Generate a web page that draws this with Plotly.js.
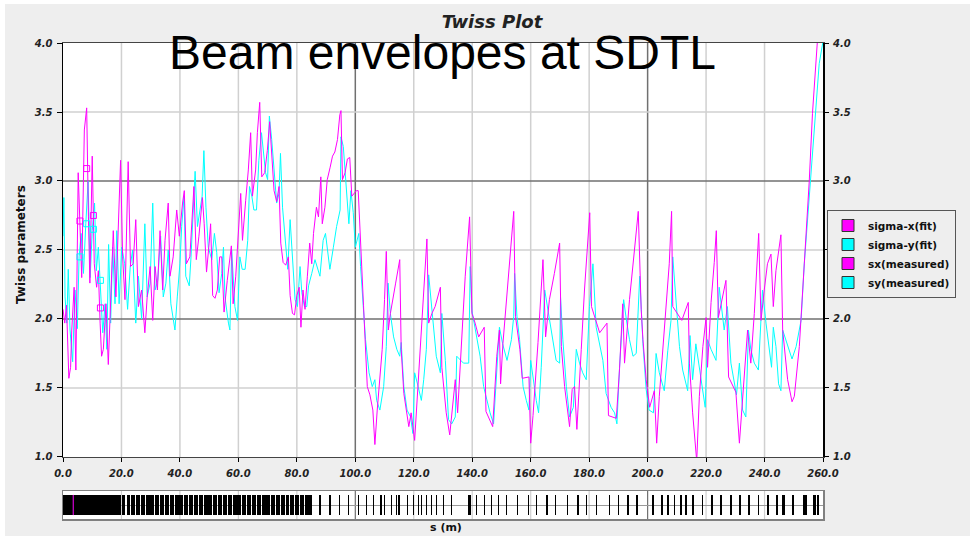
<!DOCTYPE html>
<html>
<head>
<meta charset="utf-8">
<script src="https://cdn.plot.ly/plotly-3.0.1.min.js"></script>
<style>
  html, body { margin: 0; padding: 0; background: #ffffff; }
  #bg { position: absolute; left: 5px; top: 4px; width: 965px; height: 532px; background: #EEEEEE; }
  #chart { position: absolute; left: 0; top: 0; width: 970px; height: 536px; }
</style>
</head>
<body>
<div id="bg"></div>
<div id="chart"></div>
<script>
// ---- sigma-x (fit) ----
const sigmaXs = [0.0,0.6,1.2,2.0,2.6,3.0,3.8,4.4,5.2,5.8,6.4,7.3,8.1,8.7,9.2,10.0,10.7,11.5,12.1,12.7,13.2,13.8,14.7,15.5,16.1,17.2,18.1,18.9,19.7,20.4,21.2,22.3,23.1,24.0,24.9,25.8,26.9,28.0,28.8,29.8,30.7,31.5,32.3,33.2,34.1,34.9,36.0,36.6,37.7,38.9,39.8,40.9,41.5,42.2,43.4,44.8,45.6,46.5,47.7,48.3,49.1,50.0,50.5,51.2,52.0,52.8,53.6,54.3,55.1,56.2,57.6,58.2,59.1,60.8,61.4,62.5,63.4,64.2,64.8,65.9,66.5,67.3,68.0,69.0,69.9,70.7,71.4,72.2,73.1,73.9,74.5,75.3,76.2,77.1,77.7,78.5,79.2,80.0,80.8,81.4,82.1,82.8,83.6,84.4,85.1,85.7,86.7,87.4,88.2,88.7,89.6,90.4,91.4,92.2,93.0,93.9,94.7,95.1,95.6,96.5,97.3,98.1,98.8,99.6,100.4,101.0,101.8,102.8,104.1,105.0,106.0,106.7,107.5,109.2,110.0,110.6,111.3,112.0,113.8,115.2,115.7,116.6,118.3,119.1,120.3,121.1,122.2,123.4,124.5,125.1,126.2,127.3,129.1,129.6,131.1,132.3,133.4,134.2,135.0,136.1,137.6,139.1,139.9,141.0,142.2,144.1,144.7,147.0,148.4,149.3,149.7,150.5,151.7,153.4,154.2,154.8,156.3,157.1,159.4,160.0,160.8,162.5,164.2,165.1,166.4,168.1,169.9,170.5,171.6,173.3,174.2,175.0,175.8,177.3,178.4,180.2,180.8,183.6,186.1,186.6,189.3,190.4,191.5,192.1,193.8,195.5,196.8,197.8,198.4,199.5,200.7,202.3,203.1,204.0,205.7,207.4,208.2,208.6,211.7,213.9,214.3,215.4,216.8,217.7,218.9,220.0,220.5,221.7,222.8,223.5,224.2,225.6,226.8,227.7,230.2,231.4,232.5,234.2,235.3,236.5,238.0,238.8,239.9,241.0,242.2,243.0,243.9,245.6,246.2,247.9,249.4,250.2,251.9,253.6,255.3,256.4,258.2,259.0];
const sigmaXv = [2.07,1.97,2.10,1.57,1.65,1.92,2.23,1.63,3.06,2.71,2.30,3.37,3.53,2.74,2.26,3.18,2.40,2.23,2.35,1.97,1.73,1.78,2.11,1.67,1.97,2.64,2.16,2.64,3.15,2.45,2.14,3.14,2.38,2.40,2.72,2.09,2.21,1.90,2.16,2.38,1.99,2.38,2.21,2.64,2.21,2.57,2.84,2.31,2.45,2.79,2.60,2.84,2.93,2.40,2.45,2.96,2.43,2.60,2.88,2.69,2.34,2.55,2.69,2.17,2.15,2.21,2.45,2.45,2.05,2.28,2.53,2.11,2.31,2.91,2.57,2.86,3.08,3.35,2.89,3.08,3.35,3.57,3.03,3.06,3.22,3.43,3.22,2.93,2.85,2.96,2.55,2.41,2.39,2.45,2.17,2.04,2.03,2.17,2.23,1.94,2.21,2.07,2.31,2.55,2.40,2.62,2.81,2.74,3.03,2.69,2.81,3.01,3.10,3.18,3.21,3.30,3.48,3.51,3.01,3.06,3.16,3.17,2.89,2.91,2.93,2.93,2.60,2.10,1.51,1.45,1.34,1.09,1.34,1.78,2.14,2.49,1.92,2.04,2.26,2.43,1.78,1.46,1.22,1.32,1.12,1.41,1.78,2.26,2.58,1.97,2.04,2.09,2.23,1.65,1.32,1.16,1.37,1.56,1.32,1.78,2.31,2.74,2.04,1.97,1.87,1.94,1.33,1.22,1.73,1.92,1.53,1.82,2.14,2.62,2.78,2.02,1.78,1.57,1.58,1.10,1.30,1.83,2.43,1.87,2.14,2.33,2.55,1.80,1.51,1.22,1.49,1.51,1.20,1.78,2.21,2.77,2.09,1.90,1.97,1.30,1.28,1.64,2.11,1.68,2.14,2.50,2.78,2.07,1.85,1.56,1.36,1.48,1.10,1.44,1.92,2.40,2.78,2.09,1.99,2.12,1.68,1.32,0.97,1.44,1.80,2.01,1.65,2.12,2.41,2.64,2.01,2.16,2.28,1.58,1.47,1.10,1.44,1.92,1.68,2.04,2.62,1.99,2.21,2.40,2.47,2.09,2.35,2.61,1.92,1.56,1.40,1.44,1.80,2.40,3.00,3.49,4.00,4.30];

// ---- sigma-y (fit) ----
const sigmaYs = [0.0,0.3,0.7,1.3,1.8,2.4,3.3,4.1,4.9,5.5,6.2,7.0,7.8,8.6,9.3,10.0,10.8,11.4,12.1,12.8,13.6,14.4,15.0,15.6,16.3,17.0,17.8,18.4,19.2,20.1,21.1,22.1,23.0,23.8,24.9,25.8,26.9,28.0,28.8,29.8,30.7,31.5,32.4,33.4,34.3,35.2,36.0,36.9,38.3,39.1,40.0,40.6,41.4,42.0,43.2,43.8,45.2,46.0,46.9,47.6,48.2,48.9,49.7,50.9,51.8,52.6,53.4,54.3,54.9,55.4,56.6,57.1,57.7,58.8,59.7,60.5,61.3,62.3,63.2,63.8,64.6,65.3,66.2,67.0,67.9,68.5,69.3,70.0,70.6,71.4,72.3,73.1,73.9,74.4,75.1,76.0,76.9,77.7,78.5,79.4,80.2,81.1,81.7,82.6,83.4,84.0,85.1,86.2,87.9,89.0,89.8,91.3,92.5,93.6,94.8,95.1,95.9,97.0,97.8,98.5,99.3,100.0,101.2,101.8,103.5,104.7,105.8,106.7,107.3,108.4,109.7,110.6,111.2,112.0,113.1,114.2,115.2,115.7,116.6,117.7,118.9,119.7,120.3,121.5,122.6,123.4,124.3,125.1,125.9,126.8,127.7,129.1,129.6,130.8,131.9,133.0,134.2,134.7,137.0,138.8,139.3,139.9,141.0,142.7,143.9,145.0,146.1,147.3,148.4,149.3,150.4,151.9,153.4,154.2,154.5,155.3,156.2,157.4,158.5,159.4,160.0,160.8,161.9,162.7,163.6,164.8,165.9,167.6,168.7,169.9,170.2,171.0,172.2,173.3,174.6,175.6,176.7,177.8,179.0,180.1,181.3,182.4,183.5,184.7,185.8,187.5,188.7,189.5,190.4,191.8,192.7,193.8,195.0,196.1,197.3,198.4,199.5,200.5,202.0,202.9,204.0,205.7,206.9,208.0,208.6,209.7,210.9,212.0,213.7,214.5,215.4,216.5,218.2,219.7,220.5,221.7,223.4,224.5,226.2,227.3,228.5,230.4,231.4,232.5,233.6,234.5,235.3,236.5,237.9,238.8,239.3,240.5,242.4,243.0,243.9,244.8,245.6,246.2,247.9,249.4,250.8,252.5,253.6,255.3,257.0,258.7,259.9];
const sigmaYv = [2.60,2.88,2.16,1.97,2.36,1.92,1.69,2.21,1.93,2.45,2.62,2.33,2.69,3.00,2.30,2.64,2.84,2.35,2.52,2.27,1.90,2.11,1.78,2.54,1.97,2.52,2.11,2.64,2.11,2.52,2.40,2.07,2.38,2.50,1.97,2.31,2.00,2.69,2.16,2.26,2.84,2.21,2.28,2.60,2.16,2.26,2.50,2.11,1.92,2.16,2.40,2.67,2.89,2.31,2.24,2.45,3.07,2.67,2.81,2.89,3.22,2.81,2.52,2.43,2.62,2.48,2.19,2.33,2.52,2.16,1.97,1.92,2.50,2.09,1.99,2.45,2.36,2.36,2.57,2.96,2.89,2.79,2.79,3.15,3.35,3.20,3.06,3.01,3.47,3.30,3.04,2.84,2.91,3.20,2.81,2.60,2.36,2.72,2.48,2.14,2.09,2.38,2.19,2.09,2.09,2.24,2.33,2.43,2.31,2.57,2.62,2.36,2.52,2.67,2.79,3.32,3.25,2.96,2.69,2.93,2.77,2.52,2.62,2.38,1.85,1.61,1.51,1.56,1.41,1.34,1.51,1.80,2.26,2.04,1.87,1.78,1.73,1.83,1.51,1.34,1.29,1.17,1.61,1.51,1.41,1.56,1.78,2.32,2.14,1.99,1.73,1.61,2.04,1.70,1.27,1.24,1.29,1.73,1.68,1.68,2.38,2.06,1.94,1.73,1.51,1.41,1.32,1.24,1.65,1.94,1.82,1.70,1.85,2.02,2.33,2.02,1.85,1.51,1.41,1.34,1.70,1.56,1.41,1.32,1.65,2.21,2.07,1.83,1.70,1.68,2.16,1.85,1.51,1.29,1.36,1.78,1.68,1.61,1.56,2.09,2.40,1.94,1.82,1.70,1.46,1.36,1.32,1.24,1.65,2.14,2.00,1.85,1.73,1.75,2.31,1.82,1.49,1.34,1.32,1.75,1.61,1.48,1.77,1.99,2.45,2.16,1.80,1.63,1.48,1.88,1.56,1.82,1.56,1.36,1.85,1.78,1.70,2.23,1.92,2.09,1.68,1.45,1.68,1.34,1.29,1.92,1.78,1.68,1.63,1.97,2.21,1.97,1.65,1.94,1.80,1.53,1.48,1.92,1.80,1.71,1.80,1.99,2.40,2.88,3.37,3.85,4.00];

// ---- measured points ----
const measS = [5.8, 8.1, 10.4, 12.8];
const sxMeasured = [2.71, 3.09, 2.75, 2.08];
const syMeasured = [2.45, 2.69, 2.65, 2.28];

// ---- lattice elements (centre s, length in m) ----
const latticePos = [9.9,20.7,22.4,24.0,25.7,27.3,29.0,30.6,32.3,33.9,35.6,37.2,38.9,40.5,42.2,43.8,45.5,47.1,48.8,50.4,52.1,53.7,55.4,57.0,58.7,60.3,62.0,63.6,65.3,66.9,68.6,70.2,71.9,73.5,75.2,76.8,78.5,80.1,81.8,83.4,84.7,87.9,91.3,94.7,97.6,101.0,103.9,106.2,108.8,109.9,112.4,114.1,114.9,117.9,119.8,121.5,122.7,124.4,126.1,127.8,130.1,132.9,139.2,141.5,144.3,146.6,148.9,151.8,155.6,159.2,162.0,165.6,168.4,172.6,176.2,179.0,182.6,186.9,190.1,193.3,196.4,201.8,205.0,207.1,209.2,211.4,213.1,215.6,218.8,222.0,225.2,228.4,231.6,234.8,237.9,241.1,244.3,246.5,249.7,253.9,257.1,258.4];
const latticeLen = [19.8,1.35,1.35,1.35,1.35,1.35,1.35,1.35,1.35,1.35,1.35,1.35,1.35,1.35,1.35,1.35,1.35,1.35,1.35,1.35,1.35,1.35,1.35,1.35,1.35,1.35,1.35,1.35,1.35,1.35,1.35,1.35,1.35,1.35,1.35,1.35,1.35,1.35,1.35,1.35,0.9,0.45,0.45,0.45,0.45,0.45,0.45,0.45,0.45,0.45,0.45,0.45,0.45,0.45,0.45,0.45,0.45,0.45,0.45,0.45,0.45,0.45,1.0,0.45,0.45,0.45,0.45,0.45,0.45,0.45,0.45,0.45,0.45,0.45,0.45,0.45,0.45,0.45,0.45,0.45,0.45,0.45,0.6,0.6,0.6,0.6,0.6,0.6,0.6,0.6,0.6,0.6,0.6,0.6,0.6,0.8,0.8,0.8,0.8,1.2,0.9,0.6,0.6];
const cursorPos = [3.5];

// ---- ticks ----
const xTicks = [0,20,40,60,80,100,120,140,160,180,200,220,240,260];
const yTicks = [1.0,1.5,2.0,2.5,3.0,3.5,4.0];
const majorX = [100, 200];
const majorY = [2.0, 3.0];

const MAG = '#FF00FF', CYA = '#00FFFF';
const LIGHT = '#d0d0d0', DARK = '#707070';
const tickFont = {family: 'DejaVu Sans, Verdana, sans-serif', size: 10, weight: 'bold', style: 'italic', color: '#222'};
const boldFont = {family: 'DejaVu Sans, Verdana, sans-serif', size: 12, weight: 'bold', color: '#111'};

const traces = [
  {type:'scatter', mode:'lines', x: sigmaYs, y: sigmaYv, line:{color:CYA, width:1}, showlegend:false, hoverinfo:'skip'},
  {type:'scatter', mode:'lines', x: sigmaXs, y: sigmaXv, line:{color:MAG, width:1}, showlegend:false, hoverinfo:'skip'},
  {type:'scatter', mode:'markers', x: measS, y: sxMeasured, yaxis:'y3', marker:{symbol:'square-open', size:6, color:MAG, line:{width:1}}, showlegend:false},
  {type:'scatter', mode:'markers', x: measS, y: syMeasured, yaxis:'y3', marker:{symbol:'square-open', size:6, color:CYA, line:{width:1}}, showlegend:false},
  // lattice view
  {type:'bar', x: latticePos, width: latticeLen, y: latticePos.map(() => 0.72), base: 0.14,
   xaxis:'x2', yaxis:'y2', marker:{color:'#000000', line:{width:0}}, showlegend:false, hoverinfo:'skip'},
  {type:'scatter', mode:'lines', x: [cursorPos[0], cursorPos[0]], y: [0.14, 0.86], xaxis:'x2', yaxis:'y2',
   line:{color:MAG, width:1}, showlegend:false, hoverinfo:'skip'},
  // legend entries
  {type:'scatter', mode:'markers', x:[null], y:[null], name:'sigma-x(fit)', marker:{symbol:'square', size:12, color:MAG, line:{color:'#333', width:1}}},
  {type:'scatter', mode:'markers', x:[null], y:[null], name:'sigma-y(fit)', marker:{symbol:'square', size:12, color:CYA, line:{color:'#333', width:1}}},
  {type:'scatter', mode:'markers', x:[null], y:[null], name:'sx(measured)', marker:{symbol:'square', size:12, color:MAG, line:{color:'#333', width:1}}},
  {type:'scatter', mode:'markers', x:[null], y:[null], name:'sy(measured)', marker:{symbol:'square', size:12, color:CYA, line:{color:'#333', width:1}}}
];

// grid lines drawn as shapes below the data (light for minor, darker for major)
const shapes = [];
xTicks.slice(1, -1).forEach(v => {
  const c = majorX.includes(v) ? DARK : LIGHT;
  shapes.push({type:'line', xref:'x', yref:'y domain', x0:v, x1:v, y0:0, y1:1, line:{color:c, width:1.5}, layer:'below'});
  shapes.push({type:'line', xref:'x2', yref:'y2 domain', x0:v, x1:v, y0:0, y1:1, line:{color:c, width:1.2}, layer:'below'});
});
yTicks.slice(1, -1).forEach(v => {
  const c = majorY.includes(v) ? DARK : LIGHT;
  shapes.push({type:'line', xref:'x domain', yref:'y', x0:0, x1:1, y0:v, y1:v, line:{color:c, width:1.5}, layer:'below'});
});

const layout = {
  width: 970, height: 536,
  margin: {l:63, r:147, t:43, b:17, autoexpand:false},
  paper_bgcolor: 'rgba(0,0,0,0)',
  plot_bgcolor: '#ffffff',
  title: {text:'Twiss Plot', font:{family:'DejaVu Sans, Verdana, sans-serif', size:18, weight:'bold', style:'italic', color:'#222'},
          xref:'container', yref:'container', x: 492/970, y: 1 - 22/536, xanchor:'center', yanchor:'middle'},
  xaxis: {domain:[0,1], anchor:'y', range:[0,260], tickvals:xTicks, ticktext:xTicks.map(v => v.toFixed(1)),
          ticks:'outside', ticklen:4, tickcolor:'#000', tickfont:tickFont, ticklabelstandoff:3,
          showgrid:false, zeroline:false,
          showline:true, linecolor:'#444', linewidth:1.5, mirror:true},
  yaxis: {domain:[0.1303,1], anchor:'x', range:[1,4], tickvals:yTicks, ticktext:yTicks.map(v => v.toFixed(1)),
          ticks:'outside', ticklen:5, tickcolor:'#000', tickfont:tickFont, ticklabelstandoff:2,
          showgrid:false, zeroline:false,
          showline:true, linecolor:'#000', linewidth:1.5, mirror:true},
  yaxis3: {overlaying:'y', side:'right', anchor:'x', range:[1,4], tickvals:yTicks, ticktext:yTicks.map(v => v.toFixed(1)),
          ticks:'outside', ticklen:5, tickcolor:'#000', tickfont:tickFont, ticklabelstandoff:2,
          showgrid:false, zeroline:false, showline:false},
  xaxis2: {domain:[0,1], anchor:'y2', range:[0,260], showticklabels:false, ticks:'',
          showgrid:false, zeroline:false,
          showline:true, linecolor:'#808080', linewidth:1.5, mirror:true},
  yaxis2: {domain:[0,0.0588], anchor:'x2', range:[0,1], tickvals:[0.5], showticklabels:false, ticks:'',
          showgrid:true, gridcolor:'#9a9a9a', gridwidth:1, zeroline:false,
          showline:true, linecolor:'#808080', linewidth:1.5, mirror:true},
  bargap: 0,
  showlegend: true,
  legend: {x: (827-63)/760, y: (519-210)/476, xanchor:'left', yanchor:'top', xref:'paper', yref:'paper',
           bgcolor:'#EEEEEE', bordercolor:'#555', borderwidth:1,
           font:{family:'DejaVu Sans, Verdana, sans-serif', size:10.5, weight:'bold', color:'#111'},
           tracegroupgap:0},
  shapes: shapes,
  annotations: [
    {text:'Beam envelopes at SDTL', xref:'paper', yref:'paper', x:(442-63)/760, y:(519-52)/476,
     xanchor:'center', yanchor:'middle', showarrow:false,
     font:{family:'Liberation Sans, Arial, sans-serif', size:48, color:'#000'}},
    {text:'Twiss parameters', xref:'paper', yref:'paper', x:(21-63)/760, y:(519-245)/476,
     xanchor:'center', yanchor:'middle', textangle:-90, showarrow:false, font:boldFont},
    {text:'s (m)', xref:'paper', yref:'paper', x:(446-63)/760, y:(519-527)/476,
     xanchor:'center', yanchor:'middle', showarrow:false, font:{family:'DejaVu Sans, Verdana, sans-serif', size:11, weight:'bold', color:'#111'}}
  ]
};

Plotly.newPlot('chart', traces, layout, {staticPlot:true, displayModeBar:false});
</script>
</body>
</html>
